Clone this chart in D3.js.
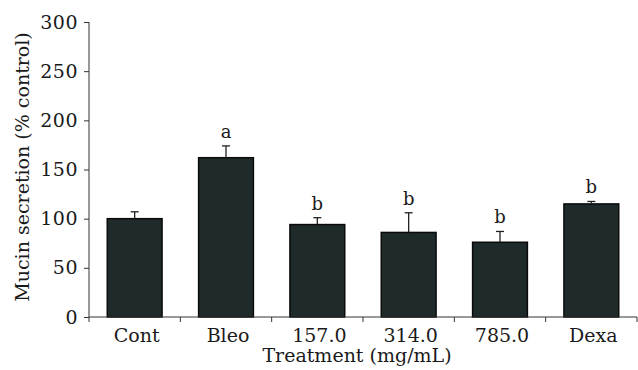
<!DOCTYPE html>
<html>
<head>
<meta charset="utf-8">
<script src="https://cdn.jsdelivr.net/npm/d3@7"></script>
<style>
    body { margin: 0; background: #fff; }
    svg text { fill: #1a1a1a; }
</style>
</head>
<body>
<div id="main"></div>
<script>
// data
var categories = ['Cont', 'Bleo', '157.0', '314.0', '785.0', 'Dexa'];
var means = [100, 162, 94, 86, 76, 115];
var errors = [7, 12, 7, 20, 11, 2.5];
var letters = ['', 'a', 'b', 'b', 'b', 'b'];
var yTicks = [0, 50, 100, 150, 200, 250, 300];

var W = 638, H = 370;
var margin = { top: 22, right: 1, bottom: 53, left: 89 };
var width = W - margin.left - margin.right,
    height = H - margin.top - margin.bottom;
var serif = 'DejaVu Serif';

var svg = d3.select('#main').append('svg')
    .attr('width', W)
    .attr('height', H)
    .style('font-family', serif);

var g = svg.append('g')
    .attr('transform', 'translate(' + margin.left + ',' + margin.top + ')');

var xScale = d3.scaleBand()
    .domain(categories)
    .range([0, width])
    .paddingInner(0.4)
    .paddingOuter(0.2);

var yScale = d3.scaleLinear().domain([0, 300]).range([height, 0]);

// bars
g.selectAll('rect.bar')
    .data(categories)
    .enter()
    .append('rect')
    .attr('class', 'bar')
    .attr('x', function (d) { return xScale(d); })
    .attr('y', function (d, i) { return yScale(means[i]); })
    .attr('width', xScale.bandwidth())
    .attr('height', function (d, i) { return height - yScale(means[i]); })
    .attr('fill', '#1f2a2a')
    .attr('stroke', '#0a0a0a')
    .attr('stroke-width', 1.5);

// error bars (upper only)
var eb = g.selectAll('g.err')
    .data(categories)
    .enter()
    .append('g')
    .attr('class', 'err')
    .attr('stroke', '#222')
    .attr('stroke-width', 1.3);

eb.append('line')
    .attr('x1', function (d) { return xScale(d) + xScale.bandwidth() / 2; })
    .attr('x2', function (d) { return xScale(d) + xScale.bandwidth() / 2; })
    .attr('y1', function (d, i) { return yScale(means[i]); })
    .attr('y2', function (d, i) { return yScale(means[i] + errors[i]); });

eb.append('line')
    .attr('x1', function (d) { return xScale(d) + xScale.bandwidth() / 2 - 4; })
    .attr('x2', function (d) { return xScale(d) + xScale.bandwidth() / 2 + 4; })
    .attr('y1', function (d, i) { return yScale(means[i] + errors[i]); })
    .attr('y2', function (d, i) { return yScale(means[i] + errors[i]); });

// significance letters
g.selectAll('text.sig')
    .data(categories)
    .enter()
    .append('text')
    .attr('class', 'sig')
    .attr('x', function (d) { return xScale(d) + xScale.bandwidth() / 2; })
    .attr('y', function (d, i) { return yScale(means[i] + errors[i]) - 8; })
    .attr('text-anchor', 'middle')
    .style('font-size', '18px')
    .text(function (d, i) { return letters[i]; });

// y axis
var yAxis = d3.axisLeft(yScale).tickValues(yTicks).tickSize(5).tickPadding(6);
var yAxisEl = g.append('g').call(yAxis).attr('font-family', null);
yAxisEl.select('.domain').attr('d', 'M0,' + yScale(300) + 'V' + height).attr('stroke', '#333');
yAxisEl.selectAll('.tick line').attr('stroke', '#333');
yAxisEl.selectAll('.tick text')
    .style('font-size', '19px')
    .style('letter-spacing', '0.5px')
    .attr('fill', '#1a1a1a');

// x axis: ticks on band boundaries
var xAxisEl = g.append('g').attr('transform', 'translate(0,' + height + ')');
xAxisEl.append('line')
    .attr('x1', 0).attr('x2', width)
    .attr('stroke', '#333');
var bounds = [0].concat(categories.map(function (d) { return xScale(d) + xScale.bandwidth() + xScale.step() * 0.2; }));
xAxisEl.selectAll('line.tk')
    .data(bounds)
    .enter()
    .append('line')
    .attr('class', 'tk')
    .attr('x1', function (d) { return d; })
    .attr('x2', function (d) { return d; })
    .attr('y1', 0).attr('y2', 5)
    .attr('stroke', '#333');
xAxisEl.selectAll('text.cat')
    .data(categories)
    .enter()
    .append('text')
    .attr('class', 'cat')
    .attr('x', function (d) { return xScale(d) + xScale.bandwidth() / 2 + 2; })
    .attr('y', 25)
    .attr('text-anchor', 'middle')
    .style('font-size', '19px')
    .text(function (d) { return d; });

// axis titles
g.append('text')
    .attr('x', 357 - margin.left)
    .attr('y', height + 45)
    .attr('text-anchor', 'middle')
    .style('font-size', '19px')
    .text('Treatment (mg/mL)');

svg.append('text')
    .attr('transform', 'translate(29,' + (margin.top + 145) + ') rotate(-90)')
    .attr('text-anchor', 'middle')
    .style('font-size', '19px')
    .text('Mucin secretion (% control)');
</script>
</body>
</html>
